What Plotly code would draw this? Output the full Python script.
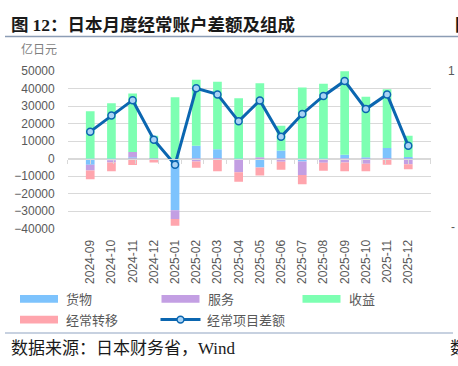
import plotly.graph_objects as go

months = ["2024-09", "2024-10", "2024-11", "2024-12", "2025-01", "2025-02", "2025-03", "2025-04",
          "2025-05", "2025-06", "2025-07", "2025-08", "2025-09", "2025-10", "2025-11", "2025-12"]
goods = [-3500, -900, 700, -300, -29500, 7300, 5300, -300, -5100, 4600, -1700, -400, 2200, 700, 6100, 900]
services = [-3300, -1300, 3100, 200, -5000, -1700, -600, -7600, 700, -1800, -7700, -2000, -2200, -2900, -300, -3300]
income = [27000, 31700, 33400, 12800, 35000, 37800, 38600, 34500, 42400, 14100, 40600, 42800, 49500, 34700, 33500, 12100]
transfers = [-5000, -5100, -3700, -1900, -4000, -3500, -6700, -5300, -4600, -4600, -5300, -4600, -5100, -4400, -3300, -2800]
balance = [15400, 24600, 33400, 10800, -3500, 40200, 36700, 21300, 33200, 12500, 25500, 35800, 44400, 28300, 36700, 7300]
y_ticks = [-40000, -30000, -20000, -10000, 0, 10000, 20000, 30000, 40000, 50000]

names = ["货物", "服务", "收益", "经常转移", "经常项目差额"]
colors = ["#7DC3FD", "#C39FE3", "#7DFFB2", "#FFA5AD"]
LINE = "#0B66B0"
MARK = "#A9D3F5"

W, H = 458, 366
def px(x):
    return x / W
def py(y):
    return 1 - y / H

CJK = "Noto Sans CJK SC"
NUM = "Liberation Sans"

fig = go.Figure()
for vals, name, col in zip([goods, services, income, transfers], names[:4], colors):
    fig.add_trace(go.Bar(x=months, y=vals, name=name, marker=dict(color=col, line=dict(width=0)),
                         showlegend=False))
# invisible helper to show the zero axis with category-boundary ticks
fig.add_trace(go.Scatter(x=[0], y=[None], xaxis="x2", yaxis="y", showlegend=False, hoverinfo="skip"))
fig.add_trace(go.Scatter(x=months, y=balance, name=names[4], mode="lines+markers",
                         line=dict(color=LINE, width=3),
                         marker=dict(size=7, color=MARK, line=dict(color=LINE, width=1.5)),
                         showlegend=False))

x0d, x1d = px(67.7), px(430.8)
y0d, y1d = py(230.3), py(66.7)
zero_pos = y0d + (0 - y_ticks[0]) / (y_ticks[-1] - y_ticks[0]) * (y1d - y0d)

fig.update_layout(
    width=W, height=H, margin=dict(l=0, r=0, t=0, b=0),
    paper_bgcolor="white", plot_bgcolor="white",
    barmode="relative", bargap=0.59,
    xaxis=dict(domain=[x0d, x1d], type="category", showgrid=False, showline=False, zeroline=False,
               ticks="", tickangle=-90, tickfont=dict(family=NUM, size=12, color="#595959"),
               ticklabelstandoff=8),
    xaxis2=dict(overlaying="x", anchor="free", position=zero_pos, range=[-0.5, 15.5],
                tickvals=[i - 0.5 for i in range(17)], ticks="outside", ticklen=4, tickwidth=1,
                tickcolor="#D9D9D9", showline=True, linecolor="#D9D9D9", linewidth=1,
                showticklabels=False, showgrid=False, zeroline=False, side="bottom"),
    yaxis=dict(domain=[y0d, y1d], range=[y_ticks[0], y_ticks[-1]], tickvals=y_ticks, tickformat="d",
               showgrid=True, gridcolor="#D9D9D9", gridwidth=1, zeroline=False, showline=False,
               tickfont=dict(family=NUM, size=12, color="#595959"), ticklabelstandoff=12),
)

ann = []
shapes = []
# title
ann.append(dict(text="<b>图 <span style='font-family:Liberation Serif'>12</span>：日本月度经常账户差额及组成</b>",
                x=px(9), y=py(17), xanchor="left", yanchor="middle",
                font=dict(family=CJK, size=17.5, color="#1A1A1A")))
ann.append(dict(text="<b>图</b>", x=px(453), y=py(17), xanchor="left", yanchor="middle",
                font=dict(family=CJK, size=17.5, color="#1A1A1A")))
shapes.append(dict(type="line", xref="paper", yref="paper", x0=px(5), x1=1.0, y0=py(30.7), y1=py(30.7),
                   line=dict(color="#8C9DB5", width=1.5)))
# unit
ann.append(dict(text="亿日元", x=px(19), y=py(43.5), xanchor="left", yanchor="middle",
                font=dict(family=CJK, size=12, color="#7F7F7F")))
# cut-off right chart remnants
ann.append(dict(text="1", x=px(446), y=py(67), xanchor="left", yanchor="middle",
                font=dict(family=NUM, size=12, color="#595959")))
ann.append(dict(text="-", x=px(449), y=py(229), xanchor="left", yanchor="middle",
                font=dict(family=NUM, size=12, color="#595959")))

# legend
legend_items = [
    (20, 303.5, colors[0], names[0], "bar"),
    (161.5, 303.5, colors[1], names[1], "bar"),
    (302.5, 303.5, colors[2], names[2], "bar"),
    (20, 325, colors[3], names[3], "bar"),
    (160.5, 325, LINE, names[4], "line"),
]
for lx, ly, col, name, kind in legend_items:
    if kind == "bar":
        shapes.append(dict(type="rect", xref="paper", yref="paper", x0=px(lx), x1=px(lx + 38),
                           y0=py(ly + 4), y1=py(ly - 4), fillcolor=col, line=dict(width=0)))
    else:
        shapes.append(dict(type="line", xref="paper", yref="paper", x0=px(lx), x1=px(lx + 40),
                           y0=py(ly), y1=py(ly), line=dict(color=col, width=3)))
        shapes.append(dict(type="circle", xref="paper", yref="paper", x0=px(lx + 20 - 3.5), x1=px(lx + 20 + 3.5),
                           y0=py(ly + 3.5), y1=py(ly - 3.5), fillcolor=MARK, line=dict(color=LINE, width=1.5)))
    ann.append(dict(text=name, x=px(lx + 44), y=py(ly), xanchor="left", yanchor="middle",
                    font=dict(family=CJK, size=13, color="#595959")))

# footer
shapes.append(dict(type="line", xref="paper", yref="paper", x0=px(5), x1=px(453), y0=py(339), y1=py(339),
                   line=dict(color="#B4C2D6", width=1.5)))
ann.append(dict(text="数据来源：日本财务省，<span style='font-family:Liberation Serif'>Wind</span>",
                x=px(9), y=py(353), xanchor="left", yanchor="middle",
                font=dict(family=CJK, size=17, color="#1A1A1A")))
ann.append(dict(text="数", x=px(448), y=py(353), xanchor="left", yanchor="middle",
                font=dict(family=CJK, size=17, color="#1A1A1A")))

for a in ann:
    a.setdefault("xref", "paper")
    a.setdefault("yref", "paper")
    a.setdefault("showarrow", False)
fig.update_layout(annotations=ann, shapes=shapes)

fig.write_html("out.html", config={"displayModeBar": False},
               post_script="document.body.style.margin='0';document.body.style.overflow='hidden';")
